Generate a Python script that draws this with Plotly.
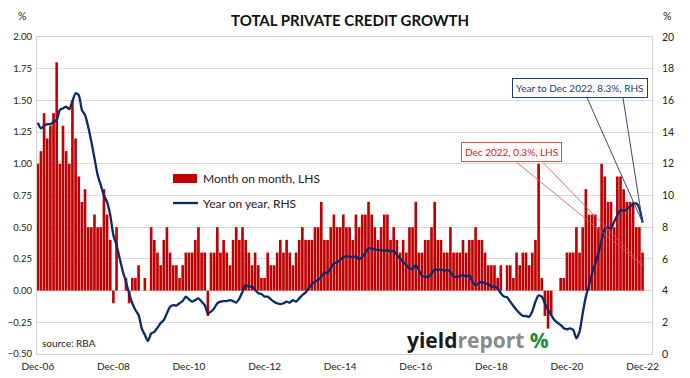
import plotly.graph_objects as go

# ---- data ----
tick_labels = ["Dec-06", "Dec-08", "Dec-10", "Dec-12", "Dec-14", "Dec-16", "Dec-18", "Dec-20", "Dec-22"]

mom = [
    1.0, 1.1, 1.4, 1.2, 1.3, 1.4, 1.8, 1.0, 1.3, 1.1,
    1.0, 1.5, 1.2, 0.9, 0.7, 0.8, 0.5, 0.5, 0.6, 0.5,
    0.5, 0.8, 0.6, 0.4, -0.1, 0.5, 0.0, 0.0, 0.1, -0.1,
    0.1, 0.1, 0.2, 0.0, 0.1, 0.0, 0.5, 0.4, 0.3, 0.2,
    0.4, 0.5, 0.3, 0.2, 0.2, 0.1, 0.2, 0.3, 0.3, 0.3,
    0.4, 0.5, 0.3, 0.3, -0.2, 0.3, 0.3, 0.5, 0.3, 0.4,
    0.3, 0.2, 0.4, 0.5, 0.4, 0.5, 0.4, 0.3, 0.2, 0.3,
    0.2, 0.1, 0.1, 0.3, 0.2, 0.2, 0.3, 0.4,
    0.3, 0.4, 0.3, 0.2, 0.3, 0.4, 0.5, 0.4, 0.4, 0.4,
    0.5, 0.5, 0.7, 0.4, 0.4, 0.5, 0.6, 0.5, 0.5, 0.6,
    0.5, 0.5, 0.4, 0.6, 0.5, 0.6, 0.6, 0.7, 0.6, 0.5,
    0.4, 0.5, 0.6, 0.6, 0.4, 0.5, 0.4, 0.3, 0.4,
    0.3, 0.5, 0.5, 0.7, 0.3, 0.3, 0.4, 0.4, 0.5, 0.7,
    0.4, 0.4, 0.3, 0.3, 0.5, 0.3, 0.3, 0.3, 0.4, 0.3,
    0.4, 0.4, 0.5, 0.4, 0.4, 0.3, 0.2, 0.2, 0.2, 0.1,
    0.2, 0.0, 0.2, 0.2, 0.1, 0.3, 0.2, 0.3, 0.3,
    0.2, 0.3, 0.4, 1.0, 0.1, -0.2, -0.3, -0.2, 0.0, 0.0,
    0.1, 0.1, 0.3, 0.3, 0.3, 0.5, 0.3, 0.5, 0.8, 0.6,
    0.6, 0.6, 0.5, 1.0, 0.9, 0.7, 0.7, 0.5, 0.9, 0.9,
    0.8, 0.7, 0.7, 0.7, 0.5, 0.5, 0.3,
]

yoy = [
    14.6, 14.24, 14.4, 14.5, 14.5, 14.65, 14.76, 15.4, 15.5, 15.6,
    15.45, 15.96, 16.45, 16.34, 15.4, 15.08, 14.34, 13.4, 12.35, 11.3,
    10.66, 10.0, 9.6, 8.77, 7.5, 6.88, 6.04, 5.2, 4.56, 3.83,
    3.2, 2.78, 2.46, 1.62, 1.2, 0.82, 1.3, 1.4, 1.66, 1.95,
    2.14, 2.57, 2.98, 3.09, 3.05, 3.2, 3.34, 3.62, 3.45, 3.3,
    3.4, 3.51, 3.3, 3.09, 2.57, 2.67, 2.88, 3.2, 3.3, 3.34,
    3.34, 3.4, 3.34, 3.24, 3.51, 3.93, 4.35, 4.25, 4.25, 4.04,
    3.83, 3.79, 3.62, 3.62, 3.45, 3.3, 3.2, 3.15,
    3.2, 3.3, 3.24, 3.4, 3.3, 3.51, 3.72, 3.87, 4.14, 4.42,
    4.56, 4.67, 4.88, 5.13, 5.13, 5.41, 5.72, 5.79, 5.93, 6.1,
    6.18, 6.14, 6.1, 6.18, 5.97, 6.14, 6.39, 6.67, 6.67, 6.6,
    6.56, 6.56, 6.5, 6.56, 6.45, 6.52, 6.25, 6.04, 5.8,
    5.62, 5.41, 5.36, 5.62, 5.3, 4.92, 4.88, 4.88, 5.05, 5.34,
    5.3, 5.34, 5.26, 5.3, 5.19, 4.88, 4.88, 4.92, 4.98, 4.88,
    4.98, 4.56, 4.35, 4.46, 4.56, 4.46, 4.42, 4.25, 4.25, 4.14,
    3.83, 3.62, 3.58, 3.3, 3.03, 2.78, 2.57, 2.4, 2.4,
    2.35, 2.7, 3.3, 3.7, 3.62, 3.2, 2.78, 2.46, 2.14, 1.97,
    1.83, 1.62, 1.56, 1.62, 1.51, 0.99, 1.41, 2.57, 3.62, 4.35,
    5.09, 5.72, 6.35, 7.19, 7.87, 7.99, 7.93, 8.35, 8.77, 9.08,
    9.04, 9.13, 9.3, 9.46, 9.5, 9.19, 8.3,
]

series_names = ["Month on month, LHS", "Year on year, RHS"]

months = list(range(len(mom)))
tick_positions = [k * 24 for k in range(len(tick_labels))]

RED = "#C00000"
NAVY = "#0B2A6B"
FONT = "Lato"
TXT = "#222222"

fig = go.Figure()
fig.add_trace(go.Bar(
    x=months, y=mom, name=series_names[0],
    marker=dict(color=RED, line=dict(width=0)),
    yaxis="y", showlegend=False,
))
fig.add_trace(go.Scatter(
    x=months, y=yoy, name=series_names[1], mode="lines",
    line=dict(color=NAVY, width=2.3, shape="spline", smoothing=0.6),
    yaxis="y2", showlegend=False,
))

last = len(mom) - 1

# leader lines for the call-outs
for x0 in (174.4, 185.8):
    fig.add_shape(type="line", xref="x", yref="y2", x0=x0, y0=16.15,
                  x1=months[last], y1=yoy[last], line=dict(color="#2E4A86", width=1))
for x0 in (152.1, 160.4):
    fig.add_shape(type="line", xref="x", yref="y", x0=x0, y0=1.01,
                  x1=months[last], y1=mom[last] - 0.1,
                  line=dict(color="rgba(225,90,90,0.85)", width=1))

# legend (drawn as swatches + text)
fig.add_shape(type="rect", xref="paper", yref="paper",
              x0=0.2211, x1=0.2602, y0=0.5394, y1=0.5678,
              fillcolor=RED, line=dict(width=0))
fig.add_shape(type="line", xref="paper", yref="paper",
              x0=0.2211, x1=0.2618, y0=0.4763, y1=0.4763,
              line=dict(color=NAVY, width=2.3))

# the page body adds an 8px margin, so the figure is 8px smaller
fig.update_layout(
    width=682, height=370,
    margin=dict(l=29, r=38, t=29, b=24),
    paper_bgcolor="white", plot_bgcolor="white",
    font=dict(family=FONT, size=10, color=TXT),
    bargap=0.16,
    showlegend=False,
    xaxis=dict(range=[-0.25, 195.0], tickvals=tick_positions, ticktext=tick_labels,
               showgrid=False, zeroline=False, showline=True, linecolor="#D0D0D0",
               mirror=True, ticks="", automargin=False, ticklabelstandoff=3,
               tickfont=dict(size=10, color=TXT)),
    yaxis=dict(range=[-0.5, 2.0], dtick=0.25, tickformat=".2f",
               showgrid=True, gridcolor="#D9D9D9", zeroline=False,
               showline=True, linecolor="#D0D0D0", mirror=True,
               ticks="", automargin=False, ticklabelstandoff=2,
               tickfont=dict(size=9.5, color=TXT)),
    yaxis2=dict(range=[0, 20], dtick=2, overlaying="y", side="right",
                showgrid=False, zeroline=False, showline=False,
                ticks="", automargin=False, ticklabelstandoff=9,
                tickfont=dict(size=10.5, color=TXT)),
    annotations=[
        dict(text="<b>TOTAL PRIVATE CREDIT GROWTH</b>", xref="paper", yref="paper",
             x=0.509, y=1.0536, xanchor="center", yanchor="middle", showarrow=False,
             font=dict(size=15, color="#111")),
        dict(text="%", xref="paper", yref="paper", x=-0.0244, y=1.066,
             xanchor="center", yanchor="middle", showarrow=False, font=dict(size=10.5)),
        dict(text="%", xref="paper", yref="paper", x=1.024, y=1.066,
             xanchor="center", yanchor="middle", showarrow=False, font=dict(size=10.5)),
        dict(text=series_names[0], xref="paper", yref="paper", x=0.2667, y=0.553,
             xanchor="left", yanchor="middle", showarrow=False,
             font=dict(size=12, color=TXT)),
        dict(text=series_names[1], xref="paper", yref="paper", x=0.2667, y=0.476,
             xanchor="left", yanchor="middle", showarrow=False,
             font=dict(size=12, color=TXT)),
        dict(text="source: RBA", xref="paper", yref="paper", x=0.005, y=0.035,
             xanchor="left", yanchor="middle", showarrow=False,
             font=dict(size=10, color=TXT)),
        dict(text="Year to Dec 2022, 8.3%, RHS", xref="paper", yref="paper",
             x=0.9935, y=0.839, xanchor="right", yanchor="middle", showarrow=False,
             bgcolor="white", bordercolor="#1F3A77", borderwidth=1, borderpad=3,
             font=dict(size=10, color="#1F3A77")),
        dict(text="Dec 2022, 0.3%, LHS", xref="paper", yref="paper",
             x=0.8537, y=0.636, xanchor="right", yanchor="middle", showarrow=False,
             bgcolor="white", bordercolor="#E05050", borderwidth=1, borderpad=3,
             font=dict(size=10, color="#D02020")),
        dict(text="<b>yield</b><b><span style='color:#8A8A8A'>report</span></b>"
                  "<b><span style='color:#1E8A3A'> %</span></b>",
             xref="paper", yref="paper", x=0.598, y=0.044, xanchor="left", yanchor="middle",
             showarrow=False, font=dict(size=21, color="#1A1A1A", family="Open Sans")),
    ],
)

fig.write_html("out.html")
